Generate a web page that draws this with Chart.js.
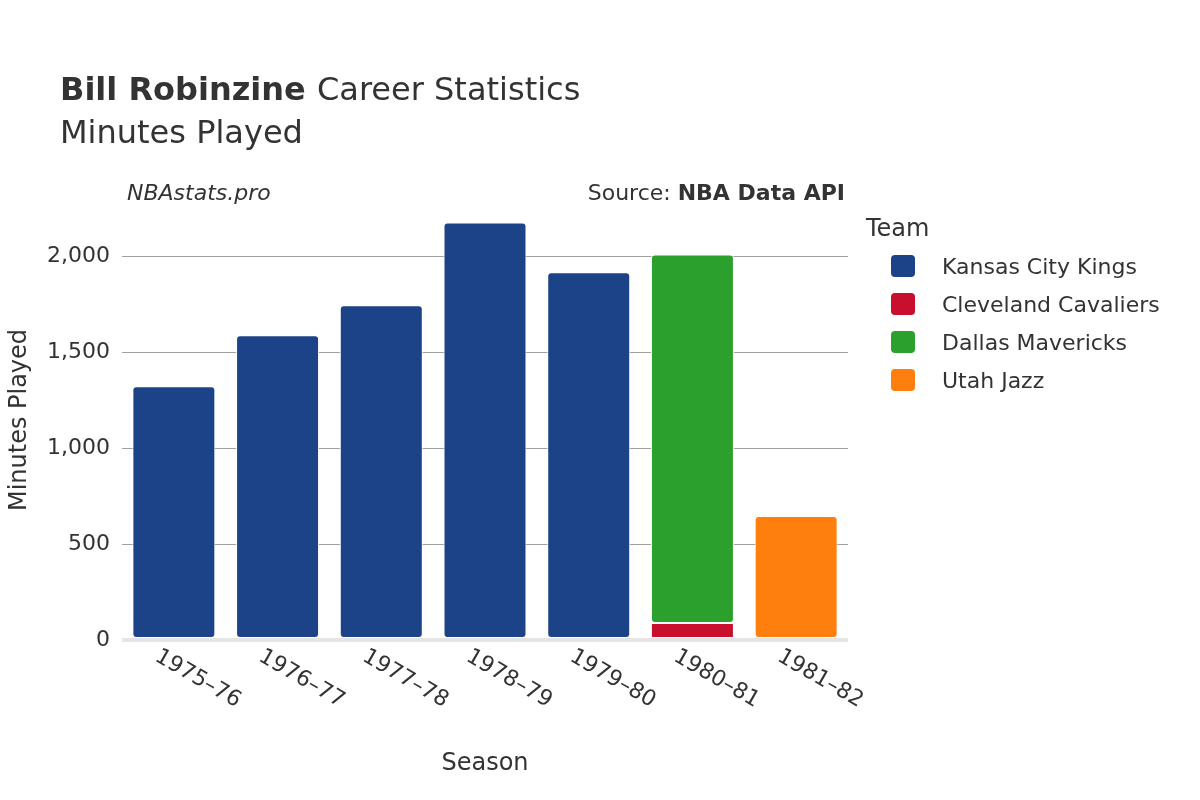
<!DOCTYPE html>
<html>
<head>
<meta charset="utf-8">
<script src="https://cdn.jsdelivr.net/npm/chart.js@4"></script>
<style>
  body { margin: 0; background: #fff; }
  #wrap { width: 1200px; height: 800px; }
</style>
</head>
<body>
<div id="wrap"><canvas id="grafico"></canvas></div>
<script>
// valores
const temporadas = ['1975–76', '1976–77', '1977–78', '1978–79', '1979–80', '1980–81', '1981–82'];
const times = ['Kansas City Kings', 'Cleveland Cavaliers', 'Dallas Mavericks', 'Utah Jazz'];
const cores = ['#1c4388', '#c8102e', '#2ca02c', '#ff7f0e'];
const kansas = [1323, 1589, 1745, 2177, 1917, null, null];
const cleveland = [null, null, null, null, null, 88, null];
const dallas = [null, null, null, null, null, 1922, null];
const utah = [null, null, null, null, null, null, 646];
const ticksY = [0, 500, 1000, 1500, 2000];

const FONTE = "'DejaVu Sans', sans-serif";

// textos, rótulos do eixo x e legenda desenhados à mão
const textos = {
  id: 'textos',
  afterDraw(chart) {
    const ctx = chart.ctx;
    ctx.save();
    ctx.fillStyle = '#333';
    ctx.textBaseline = 'alphabetic';
    ctx.textAlign = 'left';
    ctx.font = 'bold 32px ' + FONTE;
    ctx.fillText('Bill Robinzine', 60, 100);
    const w = ctx.measureText('Bill Robinzine ').width;
    ctx.font = '32px ' + FONTE;
    ctx.fillText('Career Statistics', 60 + w, 100);
    ctx.fillText('Minutes Played', 60, 143);

    ctx.font = 'italic 22px ' + FONTE;
    ctx.fillText('NBAstats.pro', 127, 200);
    ctx.textAlign = 'right';
    ctx.font = 'bold 22px ' + FONTE;
    ctx.fillText('NBA Data API', 845, 200);
    const wb = ctx.measureText('NBA Data API').width;
    ctx.font = '22px ' + FONTE;
    ctx.fillText('Source: ', 845 - wb, 200);

    // rótulos do eixo x
    const x = chart.scales.x;
    ctx.font = '22px ' + FONTE;
    ctx.textAlign = 'left';
    temporadas.forEach((t, i) => {
      const px = x.getPixelForTick(i);
      ctx.save();
      ctx.translate(px - 20, 660);
      ctx.rotate(Math.PI / 6);
      ctx.fillText(t, 0, 0);
      ctx.restore();
    });
    ctx.textAlign = 'center';
    ctx.font = '24px ' + FONTE;
    ctx.fillText('Season', 485, 770);

    ctx.save();
    ctx.translate(26, 420);
    ctx.rotate(-Math.PI / 2);
    ctx.fillText('Minutes Played', 0, 0);
    ctx.restore();

    // legenda
    ctx.textAlign = 'left';
    ctx.font = '24px ' + FONTE;
    ctx.fillText('Team', 866, 236);
    ctx.font = '22px ' + FONTE;
    times.forEach((t, i) => {
      const y = 266 + i * 38;
      ctx.fillStyle = cores[i];
      ctx.beginPath();
      ctx.roundRect(891, y - 11, 24, 22, 4);
      ctx.fill();
      ctx.fillStyle = '#333';
      ctx.fillText(t, 942, y + 8);
    });
    ctx.restore();
  }
};

function serie(nome, valores, cor) {
  return {
    label: nome,
    data: valores,
    backgroundColor: cor,
    borderColor: '#fff',
    borderWidth: 1,
    borderRadius: 4,
    borderSkipped: false,
    barPercentage: 0.8,
    categoryPercentage: 1
  };
}

new Chart(document.getElementById('grafico'), {
  type: 'bar',
  data: {
    labels: temporadas,
    datasets: [
      serie(times[0], kansas, cores[0]),
      serie(times[1], cleveland, cores[1]),
      serie(times[2], dallas, cores[2]),
      serie(times[3], utah, cores[3])
    ]
  },
  options: {
    responsive: true,
    maintainAspectRatio: false,
    animation: false,
    layout: { padding: { left: 0, top: 218, right: 352, bottom: 0 } },
    plugins: { legend: { display: false }, tooltip: { enabled: false } },
    scales: {
      x: {
        stacked: true,
        grid: { display: false },
        border: { display: false },
        ticks: { display: false },
        afterFit(s) { s.height = 160; }
      },
      y: {
        stacked: true,
        min: 0,
        max: 2200,
        afterFit(s) { s.width = 122; },
        afterBuildTicks(s) { s.ticks = ticksY.map(v => ({ value: v })); },
        border: { display: false },
        grid: {
          color: ctx => ctx.tick.value === 0 ? '#e5e5e5' : '#a0a0a0',
          lineWidth: ctx => ctx.tick.value === 0 ? 4 : 1,
          drawTicks: false
        },
        ticks: {
          padding: 12,
          color: '#333',
          font: { family: FONTE, size: 22 }
        }
      }
    }
  },
  plugins: [textos]
});
</script>
</body>
</html>
